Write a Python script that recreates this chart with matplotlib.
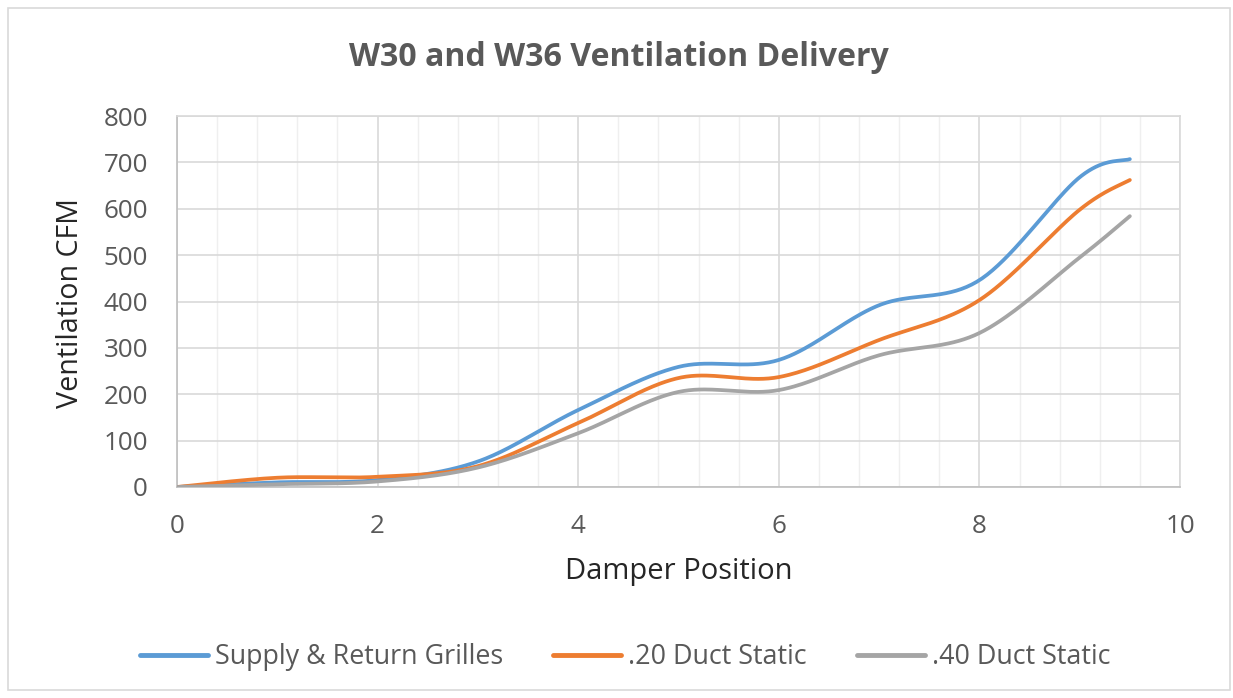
import numpy as np
import matplotlib
matplotlib.use("Agg")
import matplotlib.pyplot as plt
from matplotlib.patches import Rectangle

# Data
damper_position = [0, 1, 2, 3, 4, 5, 6, 7, 8, 9, 9.5]
supply_return = [0, 10, 15, 55, 166, 259, 274, 392, 446, 668, 707]
duct_20 = [0, 20, 22, 45, 138, 235, 237, 317, 403, 598, 662]
duct_40 = [0, 6, 12, 42, 116, 205, 209, 284, 332, 495, 584]
series_names = ["Supply & Return Grilles", ".20 Duct Static", ".40 Duct Static"]
series_colors = ["#5B9BD5", "#ED7D31", "#A5A5A5"]

title = "W30 and W36 Ventilation Delivery"
x_label = "Damper Position"
y_label = "Ventilation CFM"

W, H = 1233, 698
FONT = ['Open Sans', 'DejaVu Sans']


def smooth(xs, ys, n=40):
    """Excel-like smoothed line: cardinal Bezier through the points."""
    P = np.column_stack([xs, ys]).astype(float)
    out = []
    m = len(P)
    for i in range(m - 1):
        p0 = P[i - 1] if i > 0 else P[i]
        p1 = P[i]
        p2 = P[i + 1]
        p3 = P[i + 2] if i + 2 < m else P[i + 1]
        c1 = p1 + (p2 - p0) / 6.0
        c2 = p2 - (p3 - p1) / 6.0
        t = np.linspace(0, 1, n)[:, None]
        seg = ((1 - t) ** 3) * p1 + 3 * ((1 - t) ** 2) * t * c1 + 3 * (1 - t) * t ** 2 * c2 + t ** 3 * p2
        if i > 0:
            seg = seg[1:]
        out.append(seg)
    out = np.vstack(out)
    return out[:, 0], out[:, 1]


plt.rcParams['font.family'] = FONT
fig = plt.figure(figsize=(W / 100, H / 100), dpi=100)
renderer = fig.canvas.get_renderer()


def size_for(text, target_px, weight='normal', dim='w'):
    t = fig.text(0, 0, text, fontsize=10, fontweight=weight)
    bb = t.get_window_extent(renderer)
    t.remove()
    return 10 * target_px / (bb.width if dim == 'w' else bb.height)


ax_left, ax_right, ax_top, ax_bot = 177, 1180, 116, 487
ax = fig.add_axes([ax_left / W, 1 - ax_bot / H, (ax_right - ax_left) / W, (ax_bot - ax_top) / H])

for ys, name, col in zip([supply_return, duct_20, duct_40], series_names, series_colors):
    sx, sy = smooth(damper_position, ys)
    ax.plot(sx, sy, color=col, lw=2.7, label=name, solid_capstyle='round', zorder=3)

ax.set_xlim(0, 10)
ax.set_ylim(0, 800)
ax.set_xticks(np.arange(0, 11, 2))
ax.set_xticks(np.arange(0, 10.01, 0.4), minor=True)
ax.set_yticks(np.arange(0, 801, 100))
ax.grid(which='major', color='#D9D9D9', lw=1.2, zorder=0)
ax.grid(which='minor', axis='x', color='#EFEFEF', lw=1.0, zorder=0)
tick_size = size_for("800", 45)
ax.tick_params(which='both', length=0, labelsize=tick_size, labelcolor='#595959')
ax.tick_params(axis='y', pad=29 * 0.72)
ax.tick_params(axis='x', pad=27 * 0.72)
for s in ax.spines.values():
    s.set_color('#D9D9D9')
    s.set_linewidth(1.2)
ax.spines['left'].set_color('#BFBFBF')
ax.spines['bottom'].set_color('#BFBFBF')
ax.set_axisbelow(True)

ax.set_xlabel(x_label, fontsize=size_for(x_label, 228), color='#262626', va='center')
ax.xaxis.set_label_coords((679 - ax_left) / (ax_right - ax_left), (ax_bot - 572) / (ax_bot - ax_top))
ax.set_ylabel(y_label, fontsize=size_for(y_label, 210), color='#262626', va='center')
ax.yaxis.set_label_coords((70 - ax_left) / (ax_right - ax_left), (ax_bot - 303) / (ax_bot - ax_top))

fig.text(619 / W, 1 - 57 / H, title, ha='center', va='center',
         fontsize=size_for(title, 542, weight='bold'), fontweight='bold', color='#595959')

leg_size = size_for(series_names[0], 289)
leg_px = leg_size * 100 / 72
leg = fig.legend(loc='center', bbox_to_anchor=(625 / W, 1 - 657 / H), ncol=3,
                 frameon=False, fontsize=leg_size, handlelength=68 / leg_px,
                 handletextpad=7 / leg_px, columnspacing=50 / leg_px, labelcolor='#595959')
for ln in leg.get_lines():
    ln.set_linewidth(3.5)

fig.patches.append(Rectangle((8 / W, 1 - 690 / H), 1222 / W, 682 / H,
                             transform=fig.transFigure, fill=False, edgecolor='#D9D9D9', lw=1.2))

fig.savefig('out.png', dpi=100)
